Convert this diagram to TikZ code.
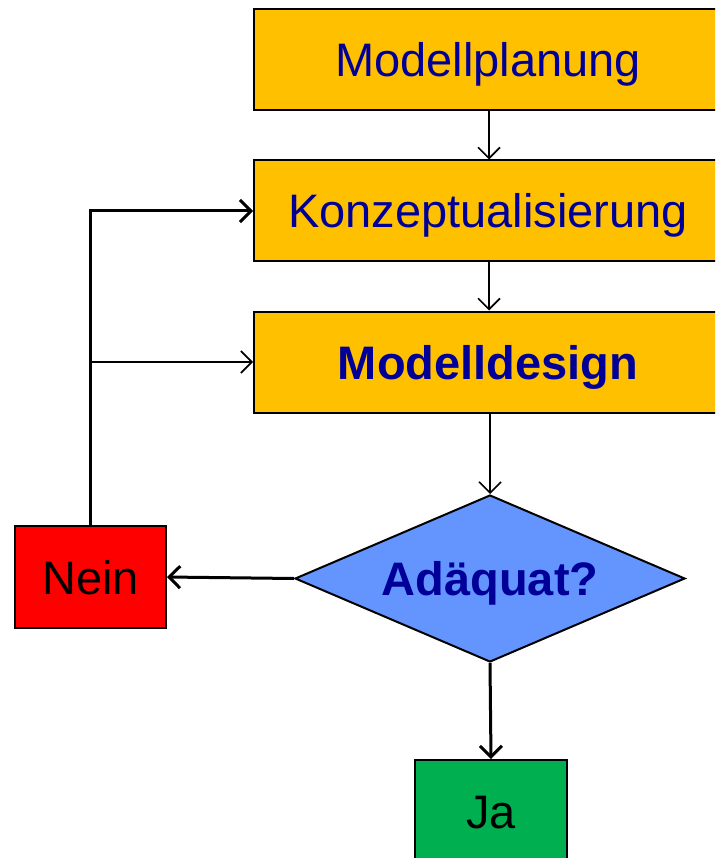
\documentclass[tikz,border=0pt]{standalone}
\usepackage{fontspec}
\setmainfont{Liberation Sans}
\usetikzlibrary{shapes.geometric,arrows.meta}

\definecolor{boxgold}{HTML}{FFC000}
\definecolor{textblue}{HTML}{000099}
\definecolor{diablue}{HTML}{6495FF}
\definecolor{neinred}{HTML}{FF0000}
\definecolor{jagreen}{HTML}{00B050}

\tikzset{
  stepbox/.style={draw,line width=2pt,fill=boxgold,text=textblue,
    minimum width=468pt,minimum height=101pt,inner sep=0pt},
  endbox/.style={draw,line width=2pt,minimum width=151pt,minimum height=102pt,inner sep=0pt},
  thinarr/.style={-{Straight Barb[length=11pt,width=22pt,line width=1.6pt]},line width=1.6pt},
  thickarr/.style={-{Straight Barb[length=11pt,width=22pt,line width=3pt]},line width=3pt}
}

\begin{document}
\begin{tikzpicture}[x=1pt,y=1pt,font=\fontsize{47}{56}\selectfont,
    every node/.append style={text height=34pt,text depth=0pt}]
        \path[use as bounding box,clip](0,0)rectangle(715,-858);

        \node[stepbox](plan)at(488,-59.5){Modellplanung};
        \node[stepbox](konz)at(488,-211){Konzeptualisierung};
        \node[stepbox,font=\fontsize{47}{56}\selectfont\bfseries](design)at(488,-362){Modelldesign};
        \node[diamond,aspect=2.335,draw,line width=2pt,fill=diablue,text=textblue,font=\fontsize{47}{56}\selectfont\bfseries,
              minimum width=390pt,minimum height=167pt,inner sep=0pt](adq)at(490,-578.5){Ad\"aquat?};
        \node[endbox,fill=neinred](nein)at(90.5,-577){Nein};
        \node[endbox,fill=jagreen,minimum width=152pt](ja)at(491,-811){Ja};

        \draw[thinarr](plan.south-|489,0)--(konz.north-|489,0);
        \draw[thinarr](konz.south-|489,0)--(design.north-|489,0);
        \draw[thinarr](design.south-|490,0)--(adq.north);
        \draw[thickarr](adq.west)--(nein.east);
        \draw[thickarr](adq.south)--(ja.north);
        \draw[thickarr](nein.north)--(nein.north|-konz.west)--(konz.west);
        \draw[thinarr](nein.north|-design.west)--(design.west);
    \end{tikzpicture}
\end{document}
